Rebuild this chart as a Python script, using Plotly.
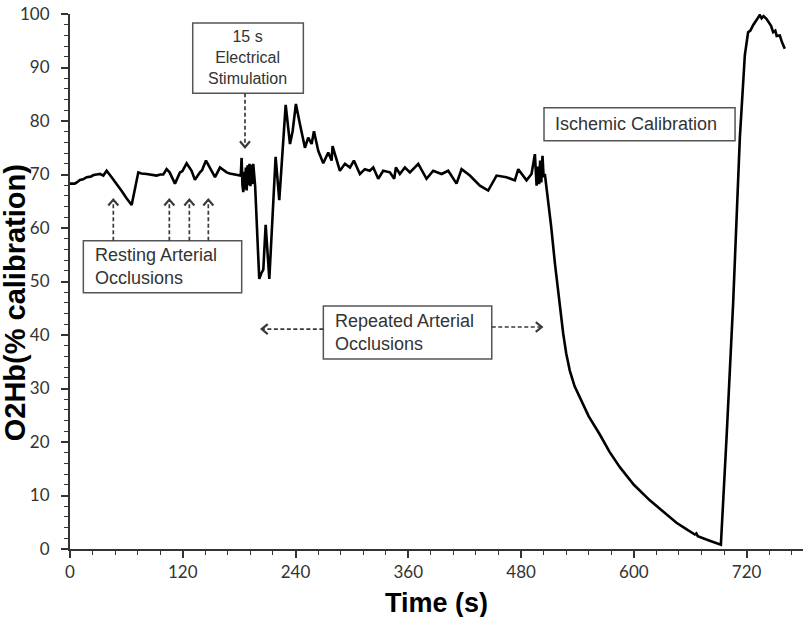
import plotly.graph_objects as go

# ---- data ----
time_s = [0, 5, 8, 10.6, 14, 17.7, 22, 25, 28.4, 32, 35.5, 39, 44.3, 50, 55, 60, 65.6,
          72.7, 76, 81.6, 86, 92.2, 96, 99.3, 102.8, 106, 111.7, 117, 119.5, 124.1, 129.4,
          132.9, 138.3, 140.5, 144.7, 148.9, 154.3, 159.6, 163, 166.7, 170, 173.8, 177,
          180.9, 181.8, 182.6, 183.5, 184.4, 185.3, 186.2, 187.1, 188.0, 189.0, 190.0,
          191.0, 192.0, 193.0, 194.0, 195.0, 196.0, 197.0, 200.3, 201.4, 203.5, 205.7,
          208.2, 212.1, 218.8, 222.7, 229.5, 234.1, 236.9, 240.4, 244.7, 250, 253.5,
          257.1, 259.6, 264.2, 269.5, 274.8, 278.4, 279.4, 287.2, 292.6, 297.9, 302.1,
          308.5, 313.8, 319, 322.7, 328, 333.3, 340.4, 345, 346.8, 351, 356.4, 361.7,
          370.6, 379.4, 386.5, 395.4, 402.5, 411.3, 416.7, 425.5, 436.2, 445, 453.9,
          464.5, 473.4, 477, 485.8, 491.1, 494.7, 496.5, 498, 499.2, 500.3, 501.5, 502.8,
          504, 505.3, 508, 512, 516, 520.6, 524.8, 528, 531.9, 537, 544.3, 552, 563.8,
          574, 585.1, 600, 617, 630, 645.4, 655, 664.9, 666.5, 668, 680, 692.6, 699,
          705.7, 712.8, 718.1, 721.6, 724, 726.9, 729, 731, 734, 736, 738, 741.1, 744,
          746, 748.2, 750.5, 752, 755.3, 757.5, 760.6]
o2hb_pct = [68.3, 68.3, 68.6, 69.0, 69.1, 69.5, 69.6, 69.9, 70.0, 70.1, 69.8, 70.7, 69.5,
            68.2, 66.9, 65.6, 64.3, 70.4, 70.2, 70.1, 70.0, 69.8, 70.0, 70.0, 71.0, 70.4,
            68.3, 70.4, 70.6, 72.1, 70.7, 69.0, 70.4, 70.8, 72.6, 71.3, 69.5, 71.3, 70.9,
            70.4, 70.2, 70.1, 70.0, 69.8, 70.2, 73.1, 68.0, 66.7, 70.5, 67.2, 71.3, 67.0,
            71.7, 68.0, 72.0, 67.8, 71.8, 68.2, 72.0, 69.5, 67.9, 54.7, 50.5, 51.5, 52.2,
            60.6, 50.5, 73.3, 65.2, 83.0, 75.7, 78.1, 83.2, 79.4, 75.0, 76.9, 75.7, 78.1,
            74.4, 72.1, 74.1, 72.6, 75.3, 70.7, 72.0, 71.3, 72.6, 70.1, 71.0, 70.7, 71.3,
            69.2, 70.7, 70.4, 69.2, 71.3, 70.1, 71.3, 70.4, 72.0, 69.2, 70.7, 70.1, 70.7,
            68.3, 71.0, 69.8, 67.9, 67.0, 69.8, 69.5, 68.9, 71.0, 68.9, 70.1, 73.8, 67.9,
            71.5, 68.2, 72.6, 68.5, 73.5, 69.5, 70.1, 66.3, 60.3, 53.4, 46.1, 40.3, 36.6,
            33.3, 30.4, 27.6, 24.8, 21.4, 18.2, 15.3, 12.0, 9.1, 7.1, 4.9, 3.8, 2.7, 2.9,
            2.4, 1.6, 0.8, 22.0, 46.1, 76.9, 92.3, 96.6, 96.9, 97.9, 98.4, 99.0, 99.8,
            99.2, 99.6, 99.1, 98.3, 97.8, 96.6, 96.9, 95.9, 96.0, 94.8, 93.5]

x_ticks = [0, 120, 240, 360, 480, 600, 720]
y_ticks = [0, 10, 20, 30, 40, 50, 60, 70, 80, 90, 100]

TXT = "#333333"
SANS = "Liberation Sans, Arial, sans-serif"

fig = go.Figure()
fig.add_trace(go.Scatter(x=time_s, y=o2hb_pct, mode="lines",
                         line=dict(color="black", width=2.6), showlegend=False,
                         hoverinfo="skip"))

shapes = []
annotations = []

# ---- annotation boxes (data coords) ----
boxes = [
    (130.6, 248.3, 85.2, 98.3),   # 15 s Electrical Stimulation
    (14.2, 182.7, 47.9, 57.6),    # Resting Arterial Occlusions
    (269.6, 448.8, 35.5, 45.4),   # Repeated Arterial Occlusions
    (504.4, 707.7, 76.3, 82.5),   # Ischemic Calibration
]
for x0, x1, y0, y1 in boxes:
    shapes.append(dict(type="rect", xref="x", yref="y", x0=x0, x1=x1, y0=y0, y1=y1,
                       line=dict(color="#555555", width=1.5), fillcolor="white",
                       layer="above"))

annotations.append(dict(x=189.4, y=91.8, xref="x", yref="y", showarrow=False,
                        text="15 s<br>Electrical<br>Stimulation", align="center",
                        font=dict(family=SANS, size=16, color=TXT)))
annotations.append(dict(x=24.8, y=52.75, xref="x", yref="y", showarrow=False,
                        xanchor="left", text="Resting Arterial<br>Occlusions", align="left",
                        font=dict(family=SANS, size=18, color=TXT)))
annotations.append(dict(x=279.6, y=40.45, xref="x", yref="y", showarrow=False,
                        xanchor="left", text="Repeated Arterial<br>Occlusions", align="left",
                        font=dict(family=SANS, size=18, color=TXT)))
annotations.append(dict(x=514.3, y=79.4, xref="x", yref="y", showarrow=False,
                        xanchor="left", text="Ischemic Calibration", align="left",
                        font=dict(family=SANS, size=18, color=TXT)))

# ---- dashed arrows with chevron heads ----
ARW = "#3a3a3a"
PX_X = 780 / 733.0      # data units per pixel, x
PX_Y = 100 / 541.0      # data units per pixel, y

def dashed_arrow(xs, ys, xe, ye, direction):
    shapes.append(dict(type="line", xref="x", yref="y", x0=xs, y0=ys, x1=xe, y1=ye,
                       line=dict(color=ARW, width=1.7, dash="4px,2.5px"), layer="above"))
    w, h = 5.0, 6.0
    if direction == "up":
        pts = [(xe - w * PX_X, ye - h * PX_Y), (xe, ye), (xe + w * PX_X, ye - h * PX_Y)]
    elif direction == "down":
        pts = [(xe - w * PX_X, ye + h * PX_Y), (xe, ye), (xe + w * PX_X, ye + h * PX_Y)]
    elif direction == "left":
        pts = [(xe + h * PX_X, ye + w * PX_Y), (xe, ye), (xe + h * PX_X, ye - w * PX_Y)]
    else:
        pts = [(xe - h * PX_X, ye + w * PX_Y), (xe, ye), (xe - h * PX_X, ye - w * PX_Y)]
    path = "M{},{} L{},{} L{},{}".format(pts[0][0], pts[0][1], pts[1][0], pts[1][1],
                                         pts[2][0], pts[2][1])
    shapes.append(dict(type="path", xref="x", yref="y", path=path,
                       line=dict(color=ARW, width=2.2), layer="above"))

for xa in [46.1, 105.7, 127.0, 147.2]:
    dashed_arrow(xa, 57.6, xa, 65.3, "up")
dashed_arrow(186.2, 85.2, 186.2, 75.1, "down")
dashed_arrow(269.6, 41.1, 204.0, 41.1, "left")
dashed_arrow(448.8, 41.5, 502.0, 41.5, "right")

# ---- axis titles ----
annotations.append(dict(xref="paper", yref="paper", x=-0.0745, y=0.46, showarrow=False,
                        xanchor="center", yanchor="middle",
                        text="<b>O2Hb(% calibration)</b>", textangle=-90,
                        font=dict(family=SANS, size=29, color="black")))
annotations.append(dict(xref="paper", yref="paper", x=0.5, y=-0.1, showarrow=False,
                        text="<b>Time (s)</b>", xanchor="center", yanchor="middle",
                        font=dict(family=SANS, size=27, color="black")))

fig.update_layout(
    width=806, height=617,
    margin=dict(l=70, r=3, t=8, b=68),
    paper_bgcolor="white", plot_bgcolor="white",
    shapes=shapes, annotations=annotations,
    xaxis=dict(range=[0, 780], tickvals=x_ticks, ticktext=[str(v) for v in x_ticks],
               showgrid=False, zeroline=False, showline=True, linecolor="#333333",
               linewidth=2, ticks="outside", ticklen=7, tickwidth=1.5,
               tickcolor="#333333", ticklabeloverflow="allow",
               minor=dict(dtick=24, tick0=0, ticks="outside", ticklen=4, tickwidth=1.2,
                          tickcolor="#333333"),
               tickfont=dict(family="Lato, sans-serif", size=17, color=TXT)),
    yaxis=dict(range=[0, 100], tickvals=y_ticks, ticktext=[str(v) for v in y_ticks],
               showgrid=False, zeroline=False, showline=True, linecolor="#333333",
               linewidth=2, ticks="outside", ticklen=7, tickwidth=1.5,
               tickcolor="#333333", ticklabelstandoff=8, ticklabeloverflow="allow",
               minor=dict(dtick=2, tick0=0, ticks="outside", ticklen=4, tickwidth=1.2,
                          tickcolor="#333333"),
               tickfont=dict(family="Lato, sans-serif", size=17, color=TXT)),
)

fig.write_html("out.html", config={"displayModeBar": False},
               post_script="document.body.style.margin='0px';")
